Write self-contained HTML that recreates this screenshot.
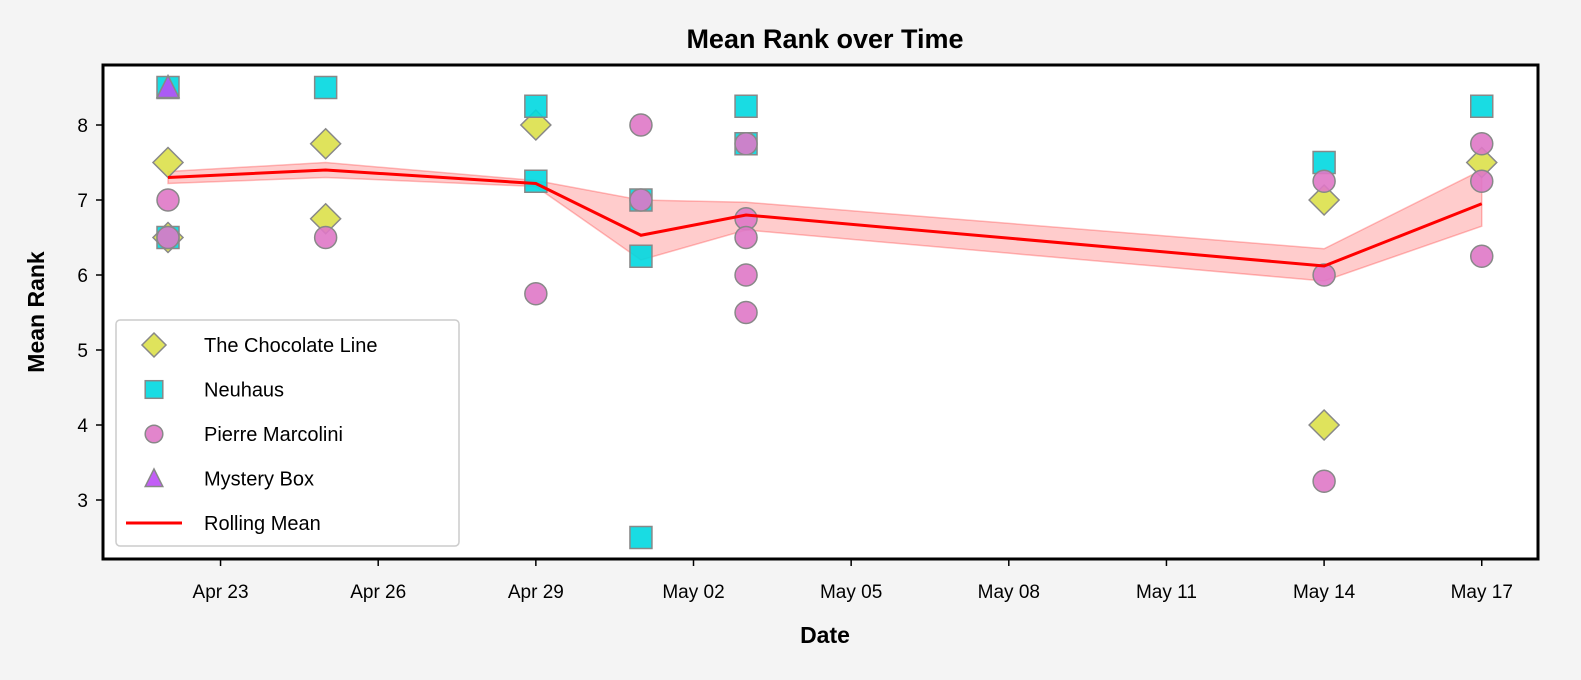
<!DOCTYPE html>
<html><head><meta charset="utf-8"><style>
body{margin:0;background:#f4f4f4;}
svg{display:block;font-family:"Liberation Sans",sans-serif;}
</style></head><body>
<svg id="chart" width="1581" height="680">
<rect x="0" y="0" width="1581" height="680" fill="#f4f4f4"/>
<rect x="103" y="65" width="1435" height="494" fill="#fff"/>
<text x="825" y="48" text-anchor="middle" font-size="27" font-weight="bold">Mean Rank over Time</text>
<text x="825" y="643" text-anchor="middle" font-size="23" font-weight="bold">Date</text>
<text transform="translate(44,312) rotate(-90)" text-anchor="middle" font-size="23" font-weight="bold">Mean Rank</text>
<g id="grid"></g><g id="band"></g><g id="marks"></g><g id="line"></g>
<rect x="103" y="65" width="1435" height="494" fill="none" stroke="#000" stroke-width="3"/>
<g id="legend"></g>
</svg>
<script>
const xTickLabels=["Apr 23","Apr 26","Apr 29","May 02","May 05","May 08","May 11","May 14","May 17"];
const xTickDays=[1,4,7,10,13,16,19,22,25];
const yTicks=[3,4,5,6,7,8];
const chocDays=[0,0,3,3,7,22,22,25];
const chocVals=[7.5,6.5,7.75,6.75,8.0,7.0,4.0,7.5];
const neuDays=[0,0,3,7,7,9,9,9,11,11,22,25];
const neuVals=[8.5,6.5,8.5,8.25,7.25,7.0,6.25,2.5,8.25,7.75,7.5,8.25];
const pierDays=[0,0,3,7,9,9,11,11,11,11,11,22,22,22,25,25,25];
const pierVals=[7.0,6.5,6.5,5.75,8.0,7.0,7.75,6.75,6.5,6.0,5.5,7.25,6.0,3.25,7.75,7.25,6.25];
const mystDays=[0];
const mystVals=[8.5];
const rollDays=[0,3,7,9,11,22,25];
const rollMean=[7.3,7.4,7.22,6.53,6.8,6.12,6.95];
const rollHi=[7.38,7.5,7.26,7.0,6.97,6.35,7.4];
const rollLo=[7.22,7.3,7.18,6.2,6.6,5.92,6.65];

const X=d=>168+d*52.55;
const Y=v=>125+(8-v)*75;
const NS="http://www.w3.org/2000/svg";
function mk(tag,attrs,parent){const e=document.createElementNS(NS,tag);for(const k in attrs)e.setAttribute(k,attrs[k]);document.getElementById(parent)?document.getElementById(parent).appendChild(e):parent.appendChild(e);return e;}
const svg=document.getElementById('chart');
xTickDays.forEach((d,i)=>{
 const t=mk('line',{x1:X(d),x2:X(d),y1:559,y2:566,stroke:'#000','stroke-width':1.5},'grid');
 
 
 const l=mk('text',{x:X(d),y:598,'text-anchor':'middle','font-size':19},'grid');
 l.textContent=xTickLabels[i];
 
 
});
yTicks.forEach(v=>{
 const t=mk('line',{x1:96,x2:103,y1:Y(v),y2:Y(v),stroke:'#000','stroke-width':1.5},'grid');
 
 
 const l=mk('text',{x:88,y:Y(v)+7,'text-anchor':'end','font-size':19},'grid');
 l.textContent=v;
 
 
});
let bp=rollDays.map((d,i)=>X(d)+','+Y(rollHi[i]));
bp=bp.concat(rollDays.map((d,i)=>X(d)+','+Y(rollLo[i])).reverse());
const band=mk('polygon',{points:bp.join(' '),fill:'rgba(255,0,0,0.2)',stroke:'rgba(255,0,0,0.25)','stroke-width':1.5},'band');


function shape(kind,cx,cy,g,s){
 const st={fill:kind.c,stroke:'#888','stroke-width':1.5,'fill-opacity':0.9};
 let e;
 if(kind.t==='d'){e=mk('polygon',Object.assign({points:`${cx},${cy-15*s} ${cx+15*s},${cy} ${cx},${cy+15*s} ${cx-15*s},${cy}`},st),g);}
 else if(kind.t==='s'){e=mk('rect',Object.assign({x:cx-11*s,y:cy-11*s,width:22*s,height:22*s},st),g);}
 else if(kind.t==='c'){e=mk('circle',Object.assign({cx:cx,cy:cy,r:11*s},st),g);}
 else {e=mk('polygon',Object.assign({points:`${cx},${cy-12*s} ${cx+11*s},${cy+10*s} ${cx-11*s},${cy+10*s}`},st),g);}
 return e;
}
const kinds={choc:{t:'d',c:'#dbe04a'},neu:{t:'s',c:'#00d8e0'},pier:{t:'c',c:'#df78c6'},myst:{t:'t',c:'#bb4cf5'}};
[[chocDays,chocVals,'choc','chocolate-line-point'],[neuDays,neuVals,'neu','neuhaus-point'],[pierDays,pierVals,'pier','pierre-marcolini-point'],[mystDays,mystVals,'myst','mystery-box-point']].forEach(([ds,vs,k,n])=>{
 ds.forEach((d,i)=>{const e=shape(kinds[k],X(d),Y(vs[i]),'marks',1);
 
 });
});
const ln=mk('polyline',{points:rollDays.map((d,i)=>X(d)+','+Y(rollMean[i])).join(' '),fill:'none',stroke:'#ff0000','stroke-width':3},'line');


// legend
const lb=mk('rect',{x:116,y:320,width:343,height:226,rx:4,fill:'#fff','fill-opacity':0.85,stroke:'#ccc','stroke-width':1.5},'legend');


const legNames=['The Chocolate Line','Neuhaus','Pierre Marcolini','Mystery Box','Rolling Mean'];
const legKinds=['choc','neu','pier','myst','line'];
legNames.forEach((nm,i)=>{
 const y=345+i*44.5;
 let e;
 if(legKinds[i]==='line'){e=mk('line',{x1:126,x2:182,y1:y,y2:y,stroke:'#ff0000','stroke-width':3},'legend');}
 else e=shape(kinds[legKinds[i]],154,y,'legend',0.8);
 
 
 const t=mk('text',{x:204,y:y+7,'font-size':20},'legend');
 t.textContent=nm;
 
 
});
</script>
</body></html>
